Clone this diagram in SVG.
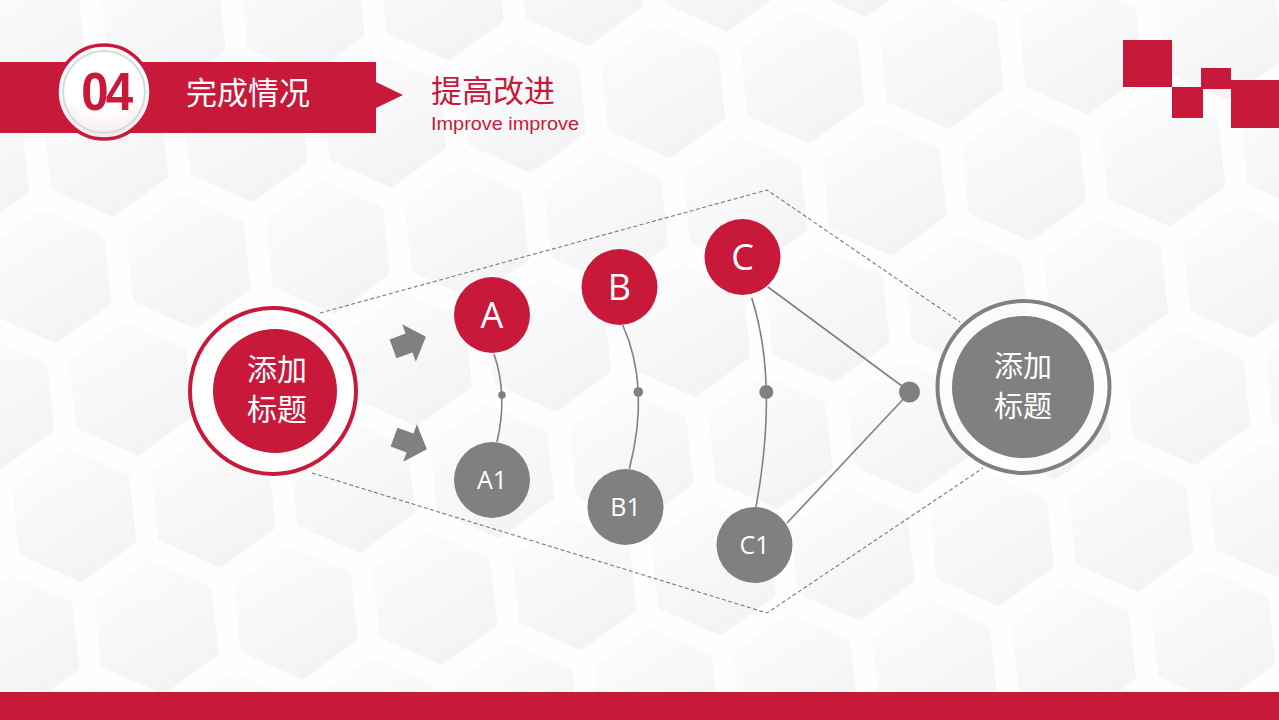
<svg xmlns="http://www.w3.org/2000/svg" width="1279" height="720" viewBox="0 0 1279 720">
<style>
.red{fill:#C8193A}
.gray{fill:#808080}
.cjk{font-family:"Noto Sans CJK SC","Noto Sans",sans-serif;fill:#fff}
.lat{font-family:"Open Sans","Noto Sans",sans-serif;fill:#fff}
.conn{fill:none;stroke:#808080;stroke-width:1.6}
.dash{fill:none;stroke:#7a7a7a;stroke-width:1.1;stroke-dasharray:4 2.5}
</style>
<defs>
<linearGradient id="hexg" x1="0.2" y1="0" x2="0.6" y2="1">
<stop offset="0" stop-color="#fbfbfc"/>
<stop offset="1" stop-color="#eeeff1"/>
</linearGradient>
<pattern id="hexpat" width="140" height="240" patternUnits="userSpaceOnUse" patternTransform="rotate(-6) translate(20,40)">
<g fill="url(#hexg)" stroke="url(#hexg)" stroke-width="10" stroke-linejoin="round">
<polygon points="0,-62 54,-31 54,31 0,62 -54,31 -54,-31"/>
<polygon points="140,-62 194,-31 194,31 140,62 86,31 86,-31"/>
<polygon points="0,178 54,209 54,271 0,302 -54,271 -54,209"/>
<polygon points="140,178 194,209 194,271 140,302 86,271 86,209"/>
<polygon points="70,58 124,89 124,151 70,182 16,151 16,89"/>
</g>
</pattern>
<radialGradient id="c04" cx="0.5" cy="0.3" r="0.7">
<stop offset="0.6" stop-color="#ffffff"/>
<stop offset="1" stop-color="#f6e6ee"/>
</radialGradient>
</defs>

<!-- background -->
<rect x="0" y="0" width="1279" height="720" fill="#fefefe"/>
<rect x="0" y="0" width="1279" height="720" fill="url(#hexpat)" opacity="0.7"/>

<!-- header -->
<g id="header">
<rect class="red" x="0" y="62" width="376" height="71"/>
<polygon class="red" points="376,82 403,95 376,108"/>
<circle cx="104" cy="92" r="47" fill="url(#c04)" stroke="#C8193A" stroke-width="3.5"/>
<circle cx="104" cy="92" r="41" fill="none" stroke="#d3dbdb" stroke-width="2"/>
<text x="106" y="110" text-anchor="middle" font-family="Liberation Sans, sans-serif" font-weight="bold" font-size="53" letter-spacing="-3" fill="#C8193A" transform="translate(104 0) scale(0.93 1) translate(-104 0)">04</text>
<text class="cjk" x="186" y="104" font-size="31">完成情况</text>
<text x="431" y="102" font-family="Noto Sans CJK SC, sans-serif" font-size="31" fill="#C8193A">提高改进</text>
<text x="431" y="130" font-family="Liberation Sans, sans-serif" font-size="19" fill="#C8193A" textLength="148" lengthAdjust="spacingAndGlyphs">Improve improve</text>
</g>

<!-- top-right squares -->
<g id="deco">
<rect class="red" x="1123" y="40" width="49" height="47"/>
<rect class="red" x="1172" y="87" width="31" height="31"/>
<rect class="red" x="1201" y="68" width="30" height="21"/>
<rect class="red" x="1231" y="80" width="48" height="48"/>
</g>

<!-- bottom bar -->
<rect class="red" x="0" y="692" width="1279" height="28"/>

<!-- connectors -->
<g id="connectors">
<polyline class="dash" points="320,313 767,190 960,322"/>
<polyline class="dash" points="312,473 767,613 983,468"/>
<path class="conn" d="M494,354 Q508,395 497,442"/>
<path class="conn" d="M622.7,325 Q650.6,387 629.3,469"/>
<path class="conn" d="M751.7,298 Q778.8,381.5 756,507"/>
<line class="conn" x1="768" y1="287" x2="910" y2="392"/>
<line class="conn" x1="910" y1="392" x2="787" y2="523"/>
<circle class="gray" cx="502" cy="395" r="3.8"/>
<circle class="gray" cx="638.3" cy="392" r="4.8"/>
<circle class="gray" cx="766.3" cy="392" r="7"/>
<circle class="gray" cx="909.5" cy="392" r="10.5"/>
<path class="gray" d="M-17,-10 L0,-10 L0,-20 L18,0 L0,20 L0,10 L-17,10 Z" transform="translate(409 343) rotate(-20)"/>
<path class="gray" d="M-17,-10 L0,-10 L0,-20 L18,0 L0,20 L0,10 L-17,10 Z" transform="translate(410 443) rotate(20)"/>
</g>

<!-- nodes -->
<g id="node-left">
<circle cx="273" cy="391" r="83" fill="#fff" fill-opacity="0.6" stroke="#C8193A" stroke-width="4"/>
<circle class="red" cx="275" cy="391" r="62"/>
<text class="cjk" x="277" y="380" font-size="30" text-anchor="middle">添加</text>
<text class="cjk" x="277" y="420" font-size="30" text-anchor="middle">标题</text>
</g>
<g id="node-A">
<circle class="red" cx="492" cy="315" r="38"/>
<text class="lat" x="492" y="328" font-size="36" text-anchor="middle">A</text>
</g>
<g id="node-A1">
<circle class="gray" cx="492" cy="480" r="38"/>
<text class="lat" x="492" y="489" font-size="25" text-anchor="middle">A1</text>
</g>
<g id="node-B">
<circle class="red" cx="619.5" cy="287" r="38"/>
<text class="lat" x="619.5" y="300" font-size="36" text-anchor="middle">B</text>
</g>
<g id="node-B1">
<circle class="gray" cx="625.5" cy="507" r="38"/>
<text class="lat" x="625.5" y="516" font-size="25" text-anchor="middle">B1</text>
</g>
<g id="node-C">
<circle class="red" cx="742.5" cy="257" r="38"/>
<text class="lat" x="742.5" y="270" font-size="36" text-anchor="middle">C</text>
</g>
<g id="node-C1">
<circle class="gray" cx="754.5" cy="545" r="38"/>
<text class="lat" x="754.5" y="554" font-size="25" text-anchor="middle">C1</text>
</g>
<g id="node-right">
<circle cx="1023.5" cy="387" r="86" fill="#fff" fill-opacity="0.6" stroke="#808080" stroke-width="4"/>
<circle class="gray" cx="1023" cy="387" r="71"/>
<text class="cjk" x="1023" y="377" font-size="29" text-anchor="middle">添加</text>
<text class="cjk" x="1023" y="417" font-size="29" text-anchor="middle">标题</text>
</g>
</svg>
